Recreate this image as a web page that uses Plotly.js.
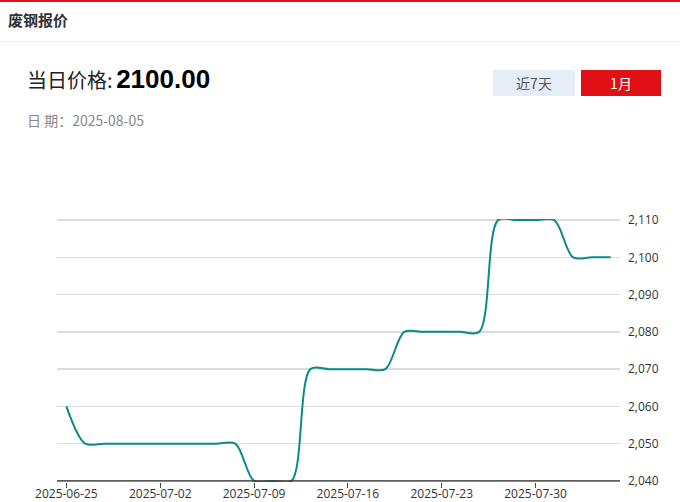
<!DOCTYPE html>
<html><head><meta charset="utf-8">
<script src="https://cdn.plot.ly/plotly-3.0.1.min.js"></script>
<style>
html,body{margin:0;padding:0;background:#fff;width:680px;height:502px;overflow:hidden;font-family:"Noto Sans CJK SC","Noto Sans",sans-serif;}
#wrap{position:relative;width:680px;height:502px;}
#topline{position:absolute;left:0;top:0;width:680px;height:2px;background:#d9141a;}
#title{position:absolute;left:8px;top:9px;font-size:15px;font-weight:bold;color:#333;}
#divider{position:absolute;left:0;top:41px;width:680px;height:1px;background:#eeeeee;}
#price{position:absolute;left:27px;top:64px;color:#222;white-space:nowrap;}
#price .lab{font-size:20px;}
#price .val{font-size:26px;font-weight:bold;color:#000;font-family:"Liberation Sans","Noto Sans CJK SC",sans-serif;}
#date{position:absolute;left:27px;top:110px;font-size:14px;color:#888;}
.btn{position:absolute;top:70px;height:26px;line-height:26px;text-align:center;font-size:14px;}
#b7{left:493px;width:82px;background:#e5edf6;color:#555;}
#b1{left:581px;width:80px;background:#e01014;color:#fff;}
#chart{position:absolute;left:0;top:0;width:680px;height:502px;}
</style></head>
<body><div id="wrap">
<div id="chart"></div>
<div id="topline"></div>
<div id="title">废钢报价</div>
<div id="divider"></div>
<div id="price"><span class="lab">当日价格:</span> <span class="val">2100.00</span></div>
<div id="date">日 期：2025-08-05</div>
<div class="btn" id="b7">近7天</div>
<div class="btn" id="b1">1月</div>
</div>
<script>
const dates = ["2025-06-25","2025-06-26","2025-06-27","2025-06-30","2025-07-01","2025-07-02","2025-07-03","2025-07-04","2025-07-07","2025-07-08","2025-07-09","2025-07-10","2025-07-11","2025-07-14","2025-07-15","2025-07-16","2025-07-17","2025-07-18","2025-07-21","2025-07-22","2025-07-23","2025-07-24","2025-07-25","2025-07-28","2025-07-29","2025-07-30","2025-07-31","2025-08-01","2025-08-04","2025-08-05"];
const prices = [2060,2050,2050,2050,2050,2050,2050,2050,2050,2050,2040,2040,2040,2070,2070,2070,2070,2070,2080,2080,2080,2080,2080,2110,2110,2110,2110,2100,2100,2100];
const xTicks = ["2025-06-25","2025-07-02","2025-07-09","2025-07-16","2025-07-23","2025-07-30"];
const yTicks = [2040,2050,2060,2070,2080,2090,2100,2110];

Plotly.newPlot('chart',[{
  x: dates, y: prices, type:'scatter', mode:'lines',
  line:{color:'#0b8a8c', width:2, shape:'spline', smoothing:0.9},
  hoverinfo:'x+y'
}],{
  width:680, height:502,
  margin:{l:57,r:60,t:219,b:20},
  paper_bgcolor:'#fff', plot_bgcolor:'#fff',
  showlegend:false,
  font:{family:'"Open Sans","Noto Sans",sans-serif', size:12, color:'#333'},
  xaxis:{type:'category', range:[-0.5,29.5], tickmode:'array', tickvals:xTicks, ticktext:xTicks,
    showgrid:false, showline:false, ticks:'outside', ticklen:5, tickcolor:'#444',
    ticklabelstandoff:-4,
    tickfont:{size:12,color:'#333'}, zeroline:false, fixedrange:true},
  yaxis:{side:'right', range:[2039.7,2110.3], tickvals:yTicks, tickformat:',d', showgrid:true, gridcolor:'#dcdcdc', gridwidth:1.3,
    showline:false, zeroline:false, ticks:'', ticklabelstandoff:7, tickfont:{size:12,color:'#333'}, fixedrange:true},
  shapes:[{type:'line', xref:'paper', yref:'y', x0:0, x1:1, y0:yTicks[0], y1:yTicks[0], line:{color:'#333', width:1.2}, layer:'above'}]
},{displayModeBar:false, staticPlot:true});
</script>
</body></html>
